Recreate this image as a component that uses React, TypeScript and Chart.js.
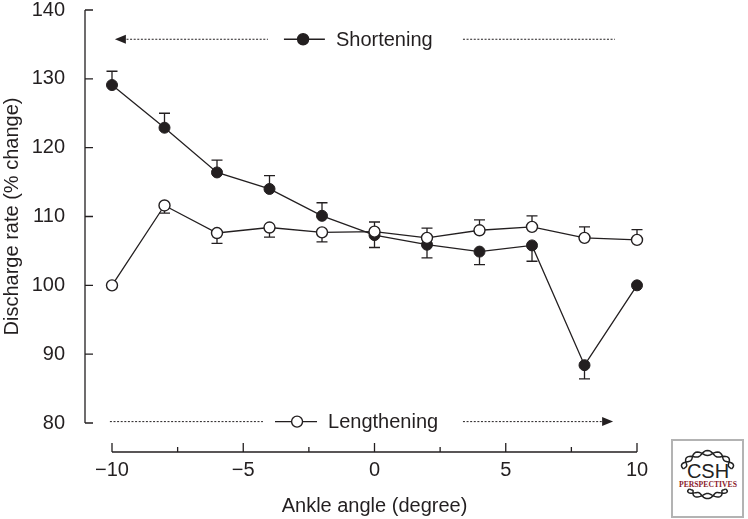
import React, { useEffect, useRef } from 'react';
import { Chart, registerables } from 'chart.js';

Chart.register(...registerables);

// ---- data ----
const angles = [-10, -8, -6, -4, -2, 0, 2, 4, 6, 8, 10];
const shortening = [129.1, 122.9, 116.4, 114.0, 110.1, 107.3, 105.9, 104.9, 105.8, 88.4, 100.0];
const shorteningErr = [2.0, 2.1, 1.8, 1.95, 1.9, -1.8, -1.9, -1.9, -2.3, -2.0, 0];
const lengthening = [100.0, 111.6, 107.6, 108.4, 107.7, 107.8, 106.9, 108.0, 108.5, 106.9, 106.6];
const lengtheningErr = [0, -1.1, -1.5, -1.4, -1.4, 1.4, 1.4, 1.5, 1.6, 1.6, 1.5];
const yTicks = [80, 90, 100, 110, 120, 130, 140];
const xMajorTicks = [-10, -5, 0, 5, 10];
const xMinorTicks = [-7.5, -2.5, 2.5, 7.5];
const seriesNames = ['Shortening', 'Lengthening'];
const xTitle = 'Ankle angle (degree)';
const yTitle = 'Discharge rate (% change)';

const INK = '#231f20';
const FONT_FAMILY = '"Liberation Sans", Arial, Helvetica, sans-serif';
const FONT_SIZE = 20;

const fmt = (v: number) => (v < 0 ? '\u2212' + Math.abs(v) : String(v));

const errorBarPlugin = {
  id: 'errorBars',
  beforeDatasetsDraw(chart: any) {
    const { ctx, scales } = chart;
    const x = scales.x, y = scales.y;
    ctx.save();
    ctx.strokeStyle = INK;
    ctx.lineWidth = 1.3;
    const draw = (vals: number[], errs: number[]) => {
      vals.forEach((v, i) => {
        const e = errs[i];
        if (!e) return;
        const px = x.getPixelForValue(angles[i]);
        const p0 = y.getPixelForValue(v);
        const p1 = y.getPixelForValue(v + e);
        ctx.beginPath();
        ctx.moveTo(px, p0);
        ctx.lineTo(px, p1);
        ctx.moveTo(px - 5.5, p1);
        ctx.lineTo(px + 5.5, p1);
        ctx.stroke();
      });
    };
    draw(shortening, shorteningErr);
    draw(lengthening, lengtheningErr);
    ctx.restore();
  },
};

const axesPlugin = {
  id: 'rangeAxes',
  afterDraw(chart: any) {
    const { ctx, scales, chartArea } = chart;
    const x = scales.x, y = scales.y;
    ctx.save();
    ctx.strokeStyle = INK;
    ctx.lineWidth = 1.3;
    // y axis (offset left)
    const ax = chartArea.left - 27;
    const yTop = y.getPixelForValue(yTicks[yTicks.length - 1]);
    const yBot = y.getPixelForValue(yTicks[0]);
    ctx.beginPath();
    ctx.moveTo(ax, yTop);
    ctx.lineTo(ax, yBot);
    yTicks.forEach((t) => {
      const py = y.getPixelForValue(t);
      ctx.moveTo(ax, py);
      ctx.lineTo(ax + 8, py);
    });
    ctx.stroke();
    // x axis (offset below)
    const ay = chartArea.bottom + 29;
    const xl = x.getPixelForValue(xMajorTicks[0]);
    const xr = x.getPixelForValue(xMajorTicks[xMajorTicks.length - 1]);
    ctx.beginPath();
    ctx.moveTo(xl, ay);
    ctx.lineTo(xr, ay);
    xMajorTicks.forEach((t) => {
      const px = x.getPixelForValue(t);
      ctx.moveTo(px, ay);
      ctx.lineTo(px, ay - 9);
    });
    xMinorTicks.forEach((t) => {
      const px = x.getPixelForValue(t);
      ctx.moveTo(px, ay);
      ctx.lineTo(px, ay - 5);
    });
    ctx.stroke();
    ctx.restore();
  },
};

// annotation positions (data coordinates)
const topRow = { y: 135.75, arrowTip: -9.89, dotEnd: -4.06, glyphL: -3.45, glyphR: -1.89, marker: -2.72, text: -1.47, dot2L: 3.37, dot2R: 9.16 };
const botRow = { y: 80.2, dotL: -10.08, dotR: -4.25, glyphL: -3.79, glyphR: -2.19, marker: -2.95, text: -1.77, arrowL: 3.37, arrowTip: 9.09 };

const annotationPlugin = {
  id: 'inlineLegend',
  afterDraw(chart: any) {
    const { ctx, scales } = chart;
    const x = scales.x, y = scales.y;
    const X = (v: number) => x.getPixelForValue(v);
    const Y = (v: number) => y.getPixelForValue(v);
    ctx.save();
    ctx.strokeStyle = INK;
    ctx.fillStyle = INK;

    const dotted = (x1: number, x2: number, py: number) => {
      ctx.save();
      ctx.lineWidth = 1;
      ctx.setLineDash([2, 1.6]);
      ctx.beginPath();
      ctx.moveTo(x1, py);
      ctx.lineTo(x2, py);
      ctx.stroke();
      ctx.restore();
    };
    const arrowHead = (tip: number, py: number, dir: number) => {
      ctx.beginPath();
      ctx.moveTo(tip, py);
      ctx.lineTo(tip - dir * 11, py - 4.5);
      ctx.lineTo(tip - dir * 11, py + 4.5);
      ctx.closePath();
      ctx.fill();
    };
    const glyph = (l: number, r: number, m: number, py: number, filled: boolean) => {
      ctx.lineWidth = 1.3;
      ctx.beginPath();
      ctx.moveTo(l, py);
      ctx.lineTo(r, py);
      ctx.stroke();
      ctx.beginPath();
      ctx.arc(m, py, 5.5, 0, Math.PI * 2);
      ctx.fillStyle = filled ? INK : '#ffffff';
      ctx.fill();
      ctx.lineWidth = 1.4;
      ctx.stroke();
      ctx.fillStyle = INK;
    };

    ctx.font = `${FONT_SIZE}px ${FONT_FAMILY}`;
    ctx.textBaseline = 'middle';
    ctx.textAlign = 'left';

    // top row: Shortening
    const ty = Y(topRow.y);
    dotted(X(topRow.arrowTip) + 8, X(topRow.dotEnd), ty);
    arrowHead(X(topRow.arrowTip), ty, -1);
    glyph(X(topRow.glyphL), X(topRow.glyphR), X(topRow.marker), ty, true);
    ctx.fillText(seriesNames[0], X(topRow.text), ty + 1);
    dotted(X(topRow.dot2L), X(topRow.dot2R), ty);

    // bottom row: Lengthening
    const by = Y(botRow.y);
    dotted(X(botRow.dotL), X(botRow.dotR), by);
    glyph(X(botRow.glyphL), X(botRow.glyphR), X(botRow.marker), by, false);
    ctx.fillText(seriesNames[1], X(botRow.text), by + 1);
    dotted(X(botRow.arrowL), X(botRow.arrowTip) - 8, by);
    arrowHead(X(botRow.arrowTip), by, 1);

    ctx.restore();
  },
};

function helixPath(cx: number, cy: number, w: number, h: number, up: boolean, phase: number, turns: number) {
  const pts: string[] = [];
  const n = 48;
  for (let i = 0; i <= n; i++) {
    const t = i / n;
    const ang = Math.PI * (1 - t);
    const bx = cx + (w / 2) * Math.cos(ang);
    const by = cy + (up ? -1 : 1) * h * Math.sin(ang);
    const nx = Math.cos(ang), ny = (up ? -1 : 1) * Math.sin(ang);
    const off = 2.6 * Math.sin(t * Math.PI * turns + phase);
    pts.push(`${(bx + nx * off).toFixed(2)},${(by + ny * off).toFixed(2)}`);
  }
  return 'M' + pts.join(' L');
}

function Logo() {
  return (
    <svg width={76} height={82} style={{ position: 'absolute', left: 670, top: 437 }}>
      <rect x={2} y={3} width={71} height={77} fill="#ffffff" stroke="#b3b3b3" strokeWidth={2} />
      <path d={helixPath(37.5, 32, 48, 16, true, 0, 7)} fill="none" stroke="#222" strokeWidth={1.5} />
      <path d={helixPath(37.5, 32, 48, 16, true, Math.PI, 7)} fill="none" stroke="#222" strokeWidth={1.5} />
      <path d={helixPath(37.5, 52, 36, 7, false, 0, 5)} fill="none" stroke="#222" strokeWidth={1.5} />
      <path d={helixPath(37.5, 52, 36, 7, false, Math.PI, 5)} fill="none" stroke="#222" strokeWidth={1.5} />
      <text x={38} y={41} textAnchor="middle" fontFamily={FONT_FAMILY} fontSize={20} fill="#222">CSH</text>
      <text x={38} y={50} textAnchor="middle" fontFamily='"Liberation Serif", serif' fontWeight="bold" fontSize={8.5} fill="#8b1a2b" textLength={58} lengthAdjust="spacingAndGlyphs">PERSPECTIVES</text>
    </svg>
  );
}

export default function App() {
  const canvasRef = useRef<HTMLCanvasElement | null>(null);

  useEffect(() => {
    const canvas = canvasRef.current;
    if (!canvas) return;
    const font = { family: FONT_FAMILY, size: FONT_SIZE };
    const chart = new Chart(canvas, {
      type: 'line',
      data: {
        datasets: [
          {
            label: seriesNames[0],
            data: angles.map((a, i) => ({ x: a, y: shortening[i] })),
            borderColor: INK,
            borderWidth: 1.3,
            pointRadius: 5.5,
            pointBackgroundColor: INK,
            pointBorderColor: INK,
            pointBorderWidth: 1,
            tension: 0,
            clip: false,
            order: 2,
          },
          {
            label: seriesNames[1],
            data: angles.map((a, i) => ({ x: a, y: lengthening[i] })),
            borderColor: INK,
            borderWidth: 1.3,
            pointRadius: 5.5,
            pointBackgroundColor: '#ffffff',
            pointBorderColor: INK,
            pointBorderWidth: 1.4,
            tension: 0,
            clip: false,
            order: 1,
          },
        ],
      },
      options: {
        responsive: false,
        animation: false,
        layout: { padding: { top: 10, right: 111, left: 0, bottom: 0 } },
        plugins: { legend: { display: false }, tooltip: { enabled: false } },
        scales: {
          x: {
            type: 'linear',
            min: -10,
            max: 10,
            border: { display: false },
            grid: { display: false },
            afterBuildTicks: (s: any) => {
              s.ticks = xMajorTicks.map((v) => ({ value: v }));
            },
            ticks: {
              padding: 27,
              color: INK,
              font,
              maxRotation: 0,
              autoSkip: false,
              callback: (v: any) => fmt(Number(v)),
            },
            title: { display: true, text: xTitle, color: INK, font, padding: { top: 0, bottom: 1 } },
            afterFit: (s: any) => {
              s.height = 96;
              s.paddingLeft = 0;
              s.paddingRight = 0;
            },
          },
          y: {
            type: 'linear',
            min: 80,
            max: 140,
            border: { display: false },
            grid: { display: false },
            afterBuildTicks: (s: any) => {
              s.ticks = yTicks.map((v) => ({ value: v }));
            },
            ticks: { padding: 39, color: INK, font, callback: (v: any) => fmt(Number(v)) },
            title: { display: true, text: yTitle, color: INK, font, padding: 0 },
            afterFit: (s: any) => {
              s.width = 112;
              s.paddingTop = 0;
              s.paddingBottom = 0;
            },
          },
        },
      } as any,
      plugins: [errorBarPlugin, axesPlugin, annotationPlugin],
    });
    return () => chart.destroy();
  }, []);

  return (
    <div style={{ position: 'absolute', left: 0, top: 0, width: 748, height: 519, background: '#ffffff' }}>
      <canvas ref={canvasRef} width={748} height={519} style={{ display: 'block' }} />
      <Logo />
    </div>
  );
}
